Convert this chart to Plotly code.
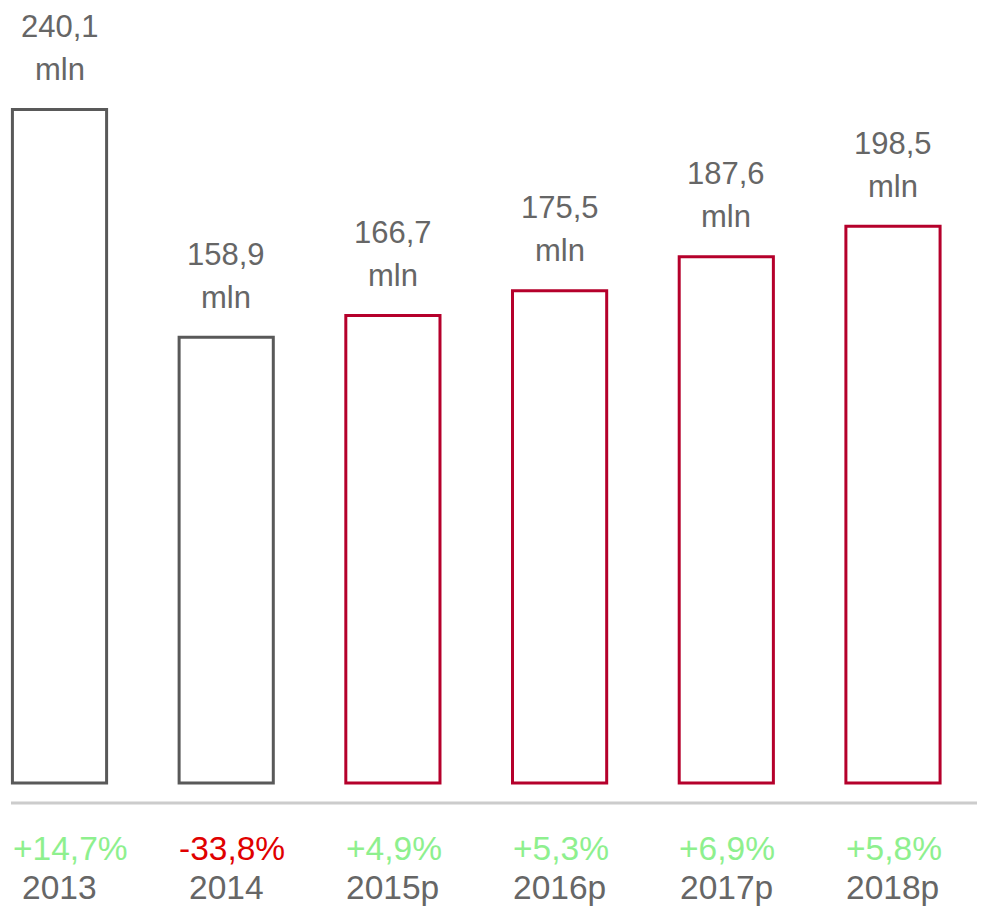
import plotly.graph_objects as go

years = ["2013", "2014", "2015p", "2016p", "2017p", "2018p"]
values = [240.1, 158.9, 166.7, 175.5, 187.6, 198.5]
changes = ["+14,7%", "-33,8%", "+4,9%", "+5,3%", "+6,9%", "+5,8%"]
forecast = [False, False, True, True, True, True]

GRAY_BAR = "#595959"
RED_BAR = "#b5002b"
TEXT = "#666666"
GREEN = "#8ef08e"
RED = "#e00000"
FONT = "Liberation Sans, Arial, Helvetica, sans-serif"

idx = list(range(len(years)))

fig = go.Figure()
fig.add_trace(go.Bar(
    x=idx, y=values, width=0.565,
    marker=dict(color="rgba(255,255,255,0)",
                line=dict(color=[RED_BAR if f else GRAY_BAR for f in forecast], width=3)),
    hoverinfo="skip",
))

ann = []
for i, yr, v, ch in zip(idx, years, values, changes):
    ann.append(dict(x=i, y=v, xref="x", yref="y", text=f"{v:.1f}".replace(".", ","),
                    showarrow=False, yanchor="middle", xanchor="center", yshift=83,
                    font=dict(family=FONT, size=31, color=TEXT)))
    ann.append(dict(x=i, y=v, xref="x", yref="y", text="mln",
                    showarrow=False, yanchor="middle", xanchor="center", yshift=40,
                    font=dict(family=FONT, size=31, color=TEXT)))
    ann.append(dict(x=i, y=0, xref="x", yref="y", text=ch,
                    showarrow=False, yanchor="middle", xanchor="left", xshift=-49, yshift=-65,
                    font=dict(family=FONT, size=33.5, color=GREEN if ch.startswith("+") else RED)))
    ann.append(dict(x=i, y=0, xref="x", yref="y", text=yr,
                    showarrow=False, yanchor="middle", xanchor="center", yshift=-104,
                    font=dict(family=FONT, size=33.5, color=TEXT)))

W, H = 977, 899
fig.add_shape(type="line", xref="paper", yref="y", ysizemode="pixel", yanchor=0,
              x0=3/W, x1=973/W, y0=-20, y1=-20,
              line=dict(color="#cccccc", width=3))

fig.update_layout(
    width=W, height=H,
    margin=dict(l=0, r=0, t=0, b=0),
    paper_bgcolor="white", plot_bgcolor="white",
    showlegend=False,
    annotations=ann,
    xaxis=dict(range=[-0.309, 5.552], visible=False, fixedrange=True),
    yaxis=dict(range=[-44.2, 276.3], visible=False, fixedrange=True),
)

fig.write_html("out.html")
